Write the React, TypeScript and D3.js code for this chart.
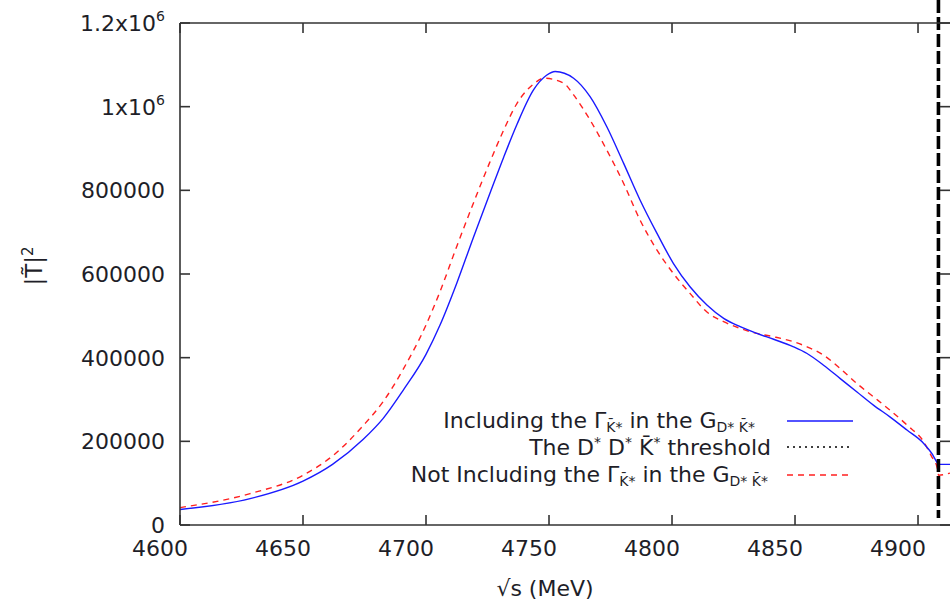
import React from 'react'
import * as d3 from 'd3'

// energies (MeV) and |T|^2 values
const blueE = [4600, 4628.5, 4650, 4662, 4674.5, 4682.6, 4690.7, 4700, 4705.7, 4712.5, 4719.3, 4726, 4731.5, 4737, 4743.7, 4749, 4752.5, 4760, 4766.7, 4773.5, 4780.3, 4787, 4793.9, 4800.6, 4807.4, 4814.2, 4821, 4827.7, 4834.5, 4841.3, 4849.4, 4854.9, 4861.6, 4868.4, 4875.2, 4882, 4888.7, 4895.5, 4902.3, 4905.6, 4907.7, 4908.4, 4913]
const blueV = [37000, 63000, 105000, 145000, 205000, 255000, 322000, 408000, 478000, 578000, 688000, 793000, 878000, 958000, 1040000, 1075000, 1084000, 1068000, 1024000, 952000, 865000, 777000, 697000, 625000, 569000, 526000, 494000, 474000, 458000, 444000, 426000, 410000, 382000, 350000, 318000, 286000, 258000, 227000, 195000, 171000, 150000, 145000, 145000]

const redE = [4600, 4628.5, 4650, 4662, 4674.5, 4682.6, 4690.7, 4700, 4705.7, 4712.5, 4719.3, 4726, 4731.5, 4737, 4743.7, 4748, 4756, 4760, 4766.7, 4773.5, 4780.3, 4787, 4793.9, 4800.6, 4807.4, 4814.2, 4821, 4827.7, 4834.5, 4841.3, 4849.4, 4854.9, 4861.6, 4868.4, 4875.2, 4882, 4888.7, 4895.5, 4902.3, 4905.6, 4907.7, 4908.4, 4913]
const redV = [41600, 75000, 119000, 165000, 238000, 295000, 372000, 478000, 558000, 666000, 770000, 868000, 943000, 1008000, 1054000, 1068000, 1056000, 1028000, 968000, 896000, 817000, 729000, 657000, 601000, 553000, 509000, 486000, 470000, 458000, 450000, 438000, 426000, 406000, 374000, 338000, 306000, 274000, 239000, 199000, 163000, 139000, 119000, 124000]

const threshold = 4908.3

const xTicks = [4600, 4650, 4700, 4750, 4800, 4850, 4900]
const yTicks = [0, 200000, 400000, 600000, 800000, 1000000, 1200000]
const yTickLabels = ['0', '200000', '400000', '600000', '800000', '1x10', '1.2x10']

const W = 950
const H = 603
const L = 180
const R = 950
const T = 23
const B = 525

const font = 'DejaVu Sans, Verdana, sans-serif'
const ink = '#1e1e28'

export default function App() {
  const x = d3.scaleLinear().domain([4600, 4913]).range([L, R])
  const y = d3.scaleLinear().domain([0, 1200000]).range([B, T])

  const line = d3.line<[number, number]>()
    .x(d => x(d[0]))
    .y(d => y(d[1]))
    .curve(d3.curveMonotoneX)

  const bluePath = line(blueE.map((e, i) => [e, blueV[i]]) as [number, number][]) || ''
  const redPath = line(redE.map((e, i) => [e, redV[i]]) as [number, number][]) || ''

  const tx = x(threshold)

  return (
    <svg width={W} height={H} style={{ position: 'absolute', left: 0, top: 0, background: '#fff' }}
      fontFamily={font} fill={ink}>
      <rect x={0} y={0} width={W} height={H} fill="#fff" />

      {/* curves */}
      <path d={redPath} fill="none" stroke="#ff2020" strokeWidth={1.4} strokeDasharray="6 5" />
      <path d={bluePath} fill="none" stroke="#1a1aff" strokeWidth={1.4} />

      {/* threshold */}
      <line x1={tx} x2={tx} y1={0} y2={518} stroke="#000" strokeWidth={3.6} strokeDasharray="13 4" />

      {/* frame */}
      <g stroke="#333" strokeWidth={1.6}>
        <line x1={L} x2={R} y1={T} y2={T} />
        <line x1={L} x2={R} y1={B} y2={B} />
        <line x1={L} x2={L} y1={T} y2={B} />
        {yTicks.map(t => (
          <g key={'yt' + t}>
            <line x1={L} x2={L + 10} y1={y(t)} y2={y(t)} />
            <line x1={R - 10} x2={R} y1={y(t)} y2={y(t)} />
          </g>
        ))}
        {xTicks.map(t => (
          <g key={'xt' + t}>
            <line x1={x(t)} x2={x(t)} y1={B} y2={B - 10} />
            <line x1={x(t)} x2={x(t)} y1={T} y2={T + 10} />
          </g>
        ))}
      </g>

      {/* tick labels */}
      <g fontSize={22}>
        {yTicks.map((t, i) => (
          <text key={'yl' + t} x={165} y={y(t) + 8} textAnchor="end">
            {yTickLabels[i]}
            {t >= 1000000 && <tspan dy={-10} fontSize={14}>6</tspan>}
          </text>
        ))}
        {xTicks.map(t => (
          <text key={'xl' + t} x={x(t) - 20} y={556} textAnchor="middle">{t}</text>
        ))}
      </g>

      {/* axis titles */}
      <text x={545} y={596} fontSize={22} textAnchor="middle">√s (MeV)</text>
      <text transform="translate(42,266) rotate(-90)" fontSize={23} textAnchor="middle">
        |T̃|<tspan dy={-9} fontSize={15}>2</tspan>
      </text>

      {/* legend */}
      <g fontSize={22}>
        <text x={755} y={428} textAnchor="end">
          Including the Γ<tspan dy={4} fontSize={14}>K̄*</tspan>
          <tspan dy={-4}> in the G</tspan><tspan dy={4} fontSize={14}>D* K̄*</tspan>
        </text>
        <text x={771} y={455} textAnchor="end">
          The D<tspan dy={-8} fontSize={14}>*</tspan><tspan dy={8}> D</tspan>
          <tspan dy={-8} fontSize={14}>*</tspan><tspan dy={8}> K̄</tspan>
          <tspan dy={-8} fontSize={14}>*</tspan><tspan dy={8}> threshold</tspan>
        </text>
        <text x={768} y={482} textAnchor="end">
          Not Including the Γ<tspan dy={4} fontSize={14}>K̄*</tspan>
          <tspan dy={-4}> in the G</tspan><tspan dy={4} fontSize={14}>D* K̄*</tspan>
        </text>
      </g>
      <line x1={787} x2={853} y1={421} y2={421} stroke="#1a1aff" strokeWidth={1.4} />
      <line x1={787} x2={853} y1={447} y2={447} stroke="#000" strokeWidth={1.5} strokeDasharray="2 4" />
      <line x1={787} x2={853} y1={475} y2={475} stroke="#ff2020" strokeWidth={1.4} strokeDasharray="6 5" />
    </svg>
  )
}
